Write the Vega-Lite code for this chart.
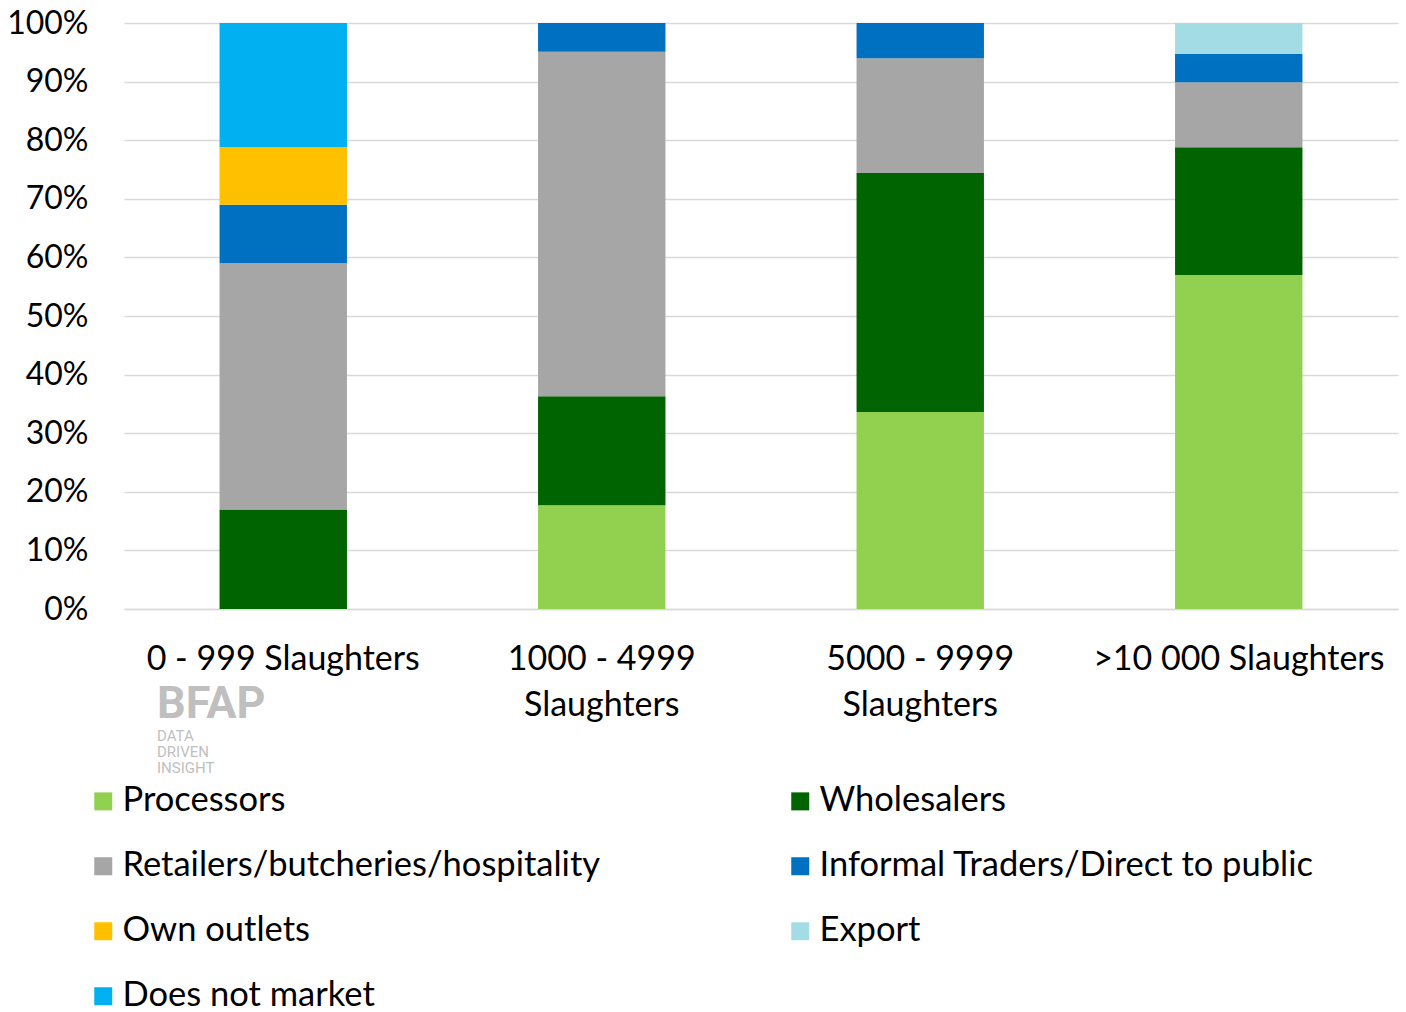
{
  "$schema": "https://vega.github.io/schema/vega-lite/v6.json",
  "autosize": {"type": "none"},
  "width": 1274,
  "height": 586,
  "padding": {"left": 124, "top": 23, "right": 8, "bottom": 403},
  "background": "white",
  "config": {
    "view": {"stroke": null},
    "font": "Lato",
    "axis": {"labelFont": "Lato", "labelColor": "#000000", "labelFontSize": 32, "ticks": false, "title": null},
    "legend": {"labelFont": "Lato", "labelColor": "#000000", "labelFontSize": 34.5}
  },
  "title": {
    "text": "BFAP",
    "subtitle": ["DATA", "DRIVEN", "INSIGHT"],
    "orient": "top",
    "anchor": "start",
    "frame": "group",
    "font": "Roboto",
    "fontWeight": "bold",
    "fontSize": 45,
    "color": "#BFBFBF",
    "subtitleFont": "Roboto",
    "subtitleFontSize": 15,
    "subtitleColor": "#BFBFBF",
    "subtitleLineHeight": 16,
    "subtitlePadding": 2,
    "dx": 33,
    "dy": 773
  },
  "data": {
    "values": [
      {"category": "0 - 999 Slaughters", "channel": "Wholesalers", "share": 0.17},
      {"category": "0 - 999 Slaughters", "channel": "Retailers/butcheries/hospitality", "share": 0.42},
      {"category": "0 - 999 Slaughters", "channel": "Informal Traders/Direct to public", "share": 0.10},
      {"category": "0 - 999 Slaughters", "channel": "Own outlets", "share": 0.098},
      {"category": "0 - 999 Slaughters", "channel": "Does not market", "share": 0.212},
      {"category": "1000 - 4999 Slaughters", "channel": "Processors", "share": 0.177},
      {"category": "1000 - 4999 Slaughters", "channel": "Wholesalers", "share": 0.186},
      {"category": "1000 - 4999 Slaughters", "channel": "Retailers/butcheries/hospitality", "share": 0.588},
      {"category": "1000 - 4999 Slaughters", "channel": "Informal Traders/Direct to public", "share": 0.049},
      {"category": "5000 - 9999 Slaughters", "channel": "Processors", "share": 0.336},
      {"category": "5000 - 9999 Slaughters", "channel": "Wholesalers", "share": 0.408},
      {"category": "5000 - 9999 Slaughters", "channel": "Retailers/butcheries/hospitality", "share": 0.196},
      {"category": "5000 - 9999 Slaughters", "channel": "Informal Traders/Direct to public", "share": 0.06},
      {"category": ">10 000 Slaughters", "channel": "Processors", "share": 0.570},
      {"category": ">10 000 Slaughters", "channel": "Wholesalers", "share": 0.218},
      {"category": ">10 000 Slaughters", "channel": "Retailers/butcheries/hospitality", "share": 0.111},
      {"category": ">10 000 Slaughters", "channel": "Informal Traders/Direct to public", "share": 0.048},
      {"category": ">10 000 Slaughters", "channel": "Export", "share": 0.053}
    ]
  },
  "transform": [
    {"calculate": "indexof(['Processors', 'Wholesalers', 'Retailers/butcheries/hospitality', 'Informal Traders/Direct to public', 'Own outlets', 'Export', 'Does not market'], datum.channel)", "as": "stackRank"}
  ],
  "mark": {"type": "bar"},
  "encoding": {
    "x": {
      "field": "category",
      "type": "nominal",
      "sort": null,
      "scale": {"paddingInner": 0.6, "paddingOuter": 0.3},
      "axis": {
        "labelAngle": 0,
        "labelBaseline": "top",
        "labelPadding": 33,
        "labelFontSize": 34,
        "labelLineHeight": 46,
        "labelLimit": 0,
        "domainColor": "#D9D9D9",
        "domainWidth": 1.5,
        "labelExpr": "datum.value == '1000 - 4999 Slaughters' ? ['1000 - 4999', 'Slaughters'] : datum.value == '5000 - 9999 Slaughters' ? ['5000 - 9999', 'Slaughters'] : datum.value"
      }
    },
    "y": {
      "field": "share",
      "type": "quantitative",
      "stack": "zero",
      "scale": {"domain": [0, 1], "nice": false},
      "axis": {
        "format": "~%",
        "values": [0, 0.1, 0.2, 0.3, 0.4, 0.5, 0.6, 0.7, 0.8, 0.9, 1],
        "domain": false,
        "labelPadding": 36,
        "gridColor": "#D9D9D9",
        "gridWidth": 1.5
      }
    },
    "order": {"field": "stackRank", "type": "quantitative", "sort": "ascending"},
    "color": {
      "field": "channel",
      "type": "nominal",
      "sort": ["Processors", "Wholesalers", "Retailers/butcheries/hospitality", "Informal Traders/Direct to public", "Own outlets", "Export", "Does not market"],
      "scale": {
        "domain": ["Processors", "Wholesalers", "Retailers/butcheries/hospitality", "Informal Traders/Direct to public", "Own outlets", "Export", "Does not market"],
        "range": ["#92D050", "#006400", "#A6A6A6", "#0070C0", "#FFC000", "#A3DCE4", "#00B0F0"]
      },
      "legend": {
        "title": null,
        "orient": "none",
        "legendX": -38,
        "legendY": 761,
        "columns": 2,
        "direction": "horizontal",
        "symbolType": "square",
        "symbolSize": 324,
        "symbolStrokeWidth": 0,
        "labelOffset": 2,
        "rowPadding": 30,
        "columnPadding": 182,
        "labelLimit": 0
      }
    }
  }
}
